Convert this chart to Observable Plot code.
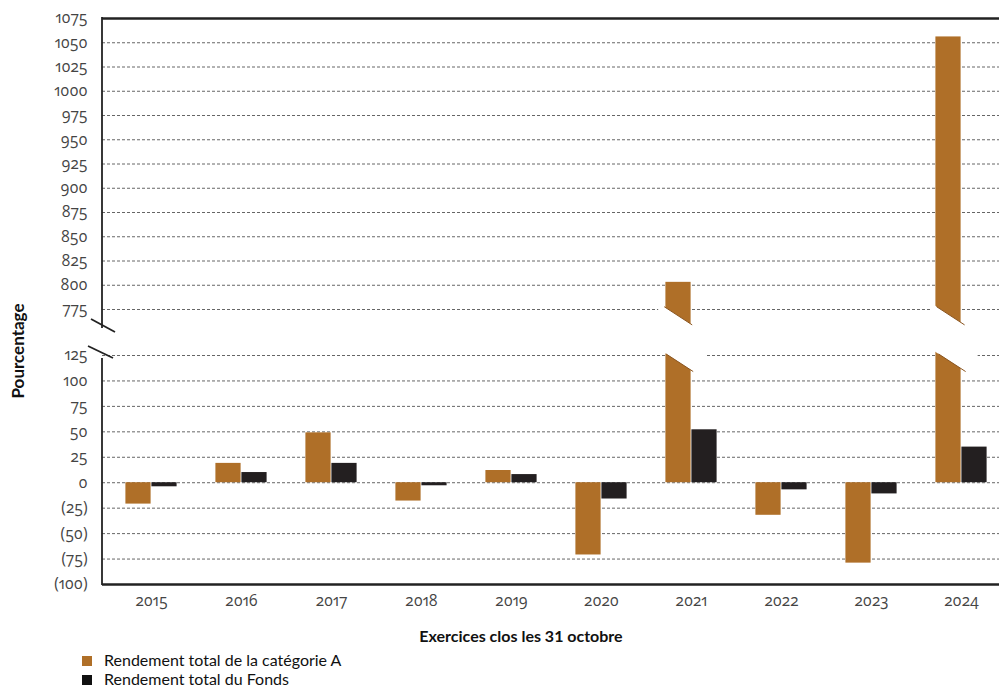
<!DOCTYPE html>
<html>
<head>
<meta charset="utf-8">
<script src="https://cdn.jsdelivr.net/npm/d3@7"></script>
<script src="https://cdn.jsdelivr.net/npm/@observablehq/plot@0.6"></script>
<style>
  html, body { margin: 0; padding: 0; background: #fff; overflow: hidden; }
  #wrap { position: relative; width: 999px; height: 688px; overflow: hidden; background: #fff; }
  #chart { position: absolute; left: 0; top: 0; }
  #chart svg text { font-family: 'Open Sans', 'Noto Sans', sans-serif !important;
                    font-size: 15.5px !important; fill: #444;
                    font-variant-numeric: oldstyle-nums proportional-nums !important;
                    font-feature-settings: "onum" 1, "pnum" 1 !important; }
  .xtitle { position: absolute; top: 626px; left: 0; width: 1042px; text-align: center; line-height: 20px;
            font: bold 16px Lato, "Noto Sans", sans-serif; color: #111; }
  .legend { position: absolute; left: 82px; font: 16px Lato, "Noto Sans", sans-serif; line-height: 17px; color: #111; }
  .legend .sw { display: inline-block; width: 10px; height: 10px; margin-right: 12px; vertical-align: 0px; }
  .ytitle { position: absolute; left: 17px; top: 351px; transform: translate(-50%, -50%) rotate(-90deg);
            font: bold 17px Lato, "Noto Sans", sans-serif; color: #111; white-space: nowrap; }
</style>
</head>
<body>
<div id="wrap">
  <div id="chart"></div>
  <div class="ytitle">Pourcentage</div>
  <div class="xtitle">Exercices clos les 31 octobre</div>
  <div class="legend" style="top:651px"><span class="sw" style="background:#AF6F28"></span>Rendement total de la catégorie A</div>
  <div class="legend" style="top:670px"><span class="sw" style="background:#111"></span>Rendement total du Fonds</div>
</div>
<script>
const years = ["2015","2016","2017","2018","2019","2020","2021","2022","2023","2024"];
const classA = [-21, 19, 49, -18, 12, -71, 803, -32, -79, 1056];
const fund   = [-4, 10, 19, -3, 8, -16, 52, -7, -11, 35];
const ticksLow  = [-100, -75, -50, -25, 0, 25, 50, 75, 100, 125];
const ticksHigh = [775, 800, 825, 850, 875, 900, 925, 950, 975, 1000, 1025, 1050, 1075];
const breakLow = 125, breakHigh = 775;

const colorA = "#AF6F28", colorF = "#231F20";
const dataA = years.map((y, i) => ({year: y, value: classA[i]}));
const dataF = years.map((y, i) => ({year: y, value: fund[i]}));
const gridTicks = [...ticksLow, ...ticksHigh].filter(t => t !== -100 && t !== 1075);

const barW = 26;
const step = 90.8;
const outer = (step - 2 * barW) / 2;

const chart = Plot.plot({
  width: 999, height: 625,
  marginLeft: 102, marginRight: 0, marginTop: 18, marginBottom: 41,
  style: {fontFamily: "'Open Sans', 'Noto Sans', sans-serif", fontSize: "15.5px", color: "#444",
          background: "white"},
  x: {domain: years, range: [102, 1010], padding: 0, tickSize: 0, tickPadding: 10, label: null},
  y: {type: "linear", domain: [-100, breakLow, breakHigh, 1075], range: [584, 355, 309, 18],
      ticks: [...ticksLow, ...ticksHigh], tickSize: 0, tickPadding: 15, label: null,
      tickFormat: d => d < 0 ? `(${-d})` : `${d}`},
  marks: [
    Plot.ruleY(gridTicks, {stroke: "#555", strokeWidth: 0.9, strokeDasharray: "3,2"}),
    Plot.barY(dataA, {x: "year", y: "value", fill: colorA, insetLeft: outer, insetRight: outer + barW}),
    Plot.barY(dataF, {x: "year", y: "value", fill: colorF, insetLeft: outer + barW, insetRight: outer}),
    Plot.ruleY([1075], {stroke: "#222", strokeWidth: 2.5}),
    Plot.ruleY([-100], {stroke: "#222", strokeWidth: 2.5})
  ]
});
document.getElementById("chart").appendChild(chart);

// breaks, drawn with the plot's own scales
const sx = chart.scale("x"), sy = chart.scale("y");
const xScale = d3.scaleBand().domain(sx.domain).range(sx.range).paddingInner(0).paddingOuter(0);
const yScale = d3.scaleLinear().domain(sy.domain).range(sy.range);
const svg = d3.select(chart);
const g = svg.append("g");
const yH = yScale(breakHigh), yL = yScale(breakLow);
const slope = 0.65;
dataA.filter(d => d.value > breakHigh).forEach(d => {
  const left = xScale(d.year) + outer, right = left + barW;
  const x0 = left - 8, x1 = right + 13;
  const top = x => yH - 1 + slope * (x - left);
  const bot = x => yL - 1 + slope * (x - left);
  g.append("polygon")
    .attr("points", [[x0, top(x0)], [x1, top(x1)], [x1, bot(x1)], [x0, bot(x0)]].map(p => p.join(",")).join(" "))
    .attr("fill", "white");
  g.append("line").attr("x1", left - 2).attr("y1", top(left - 2)).attr("x2", right).attr("y2", top(right))
    .attr("stroke", "#8a5520").attr("stroke-width", 1);
  g.append("line").attr("x1", left).attr("y1", bot(left)).attr("x2", right + 1).attr("y2", bot(right + 1))
    .attr("stroke", "#8a5520").attr("stroke-width", 1);
});
// left axis with break marks
const ax = sx.range[0];
g.append("line").attr("x1", ax).attr("x2", ax).attr("y1", yScale(1075) - 1).attr("y2", yH + 19)
  .attr("stroke", "#222").attr("stroke-width", 1.8);
g.append("line").attr("x1", ax).attr("x2", ax).attr("y1", yL + 3).attr("y2", yScale(-100) + 1)
  .attr("stroke", "#222").attr("stroke-width", 1.8);
g.append("line").attr("x1", ax - 11).attr("y1", yH + 10).attr("x2", ax + 13).attr("y2", yH + 23)
  .attr("stroke", "#222").attr("stroke-width", 1.8);
g.append("line").attr("x1", ax - 14).attr("y1", yL - 9).attr("x2", ax + 11).attr("y2", yL + 3)
  .attr("stroke", "#222").attr("stroke-width", 1.8);
</script>
</body>
</html>
